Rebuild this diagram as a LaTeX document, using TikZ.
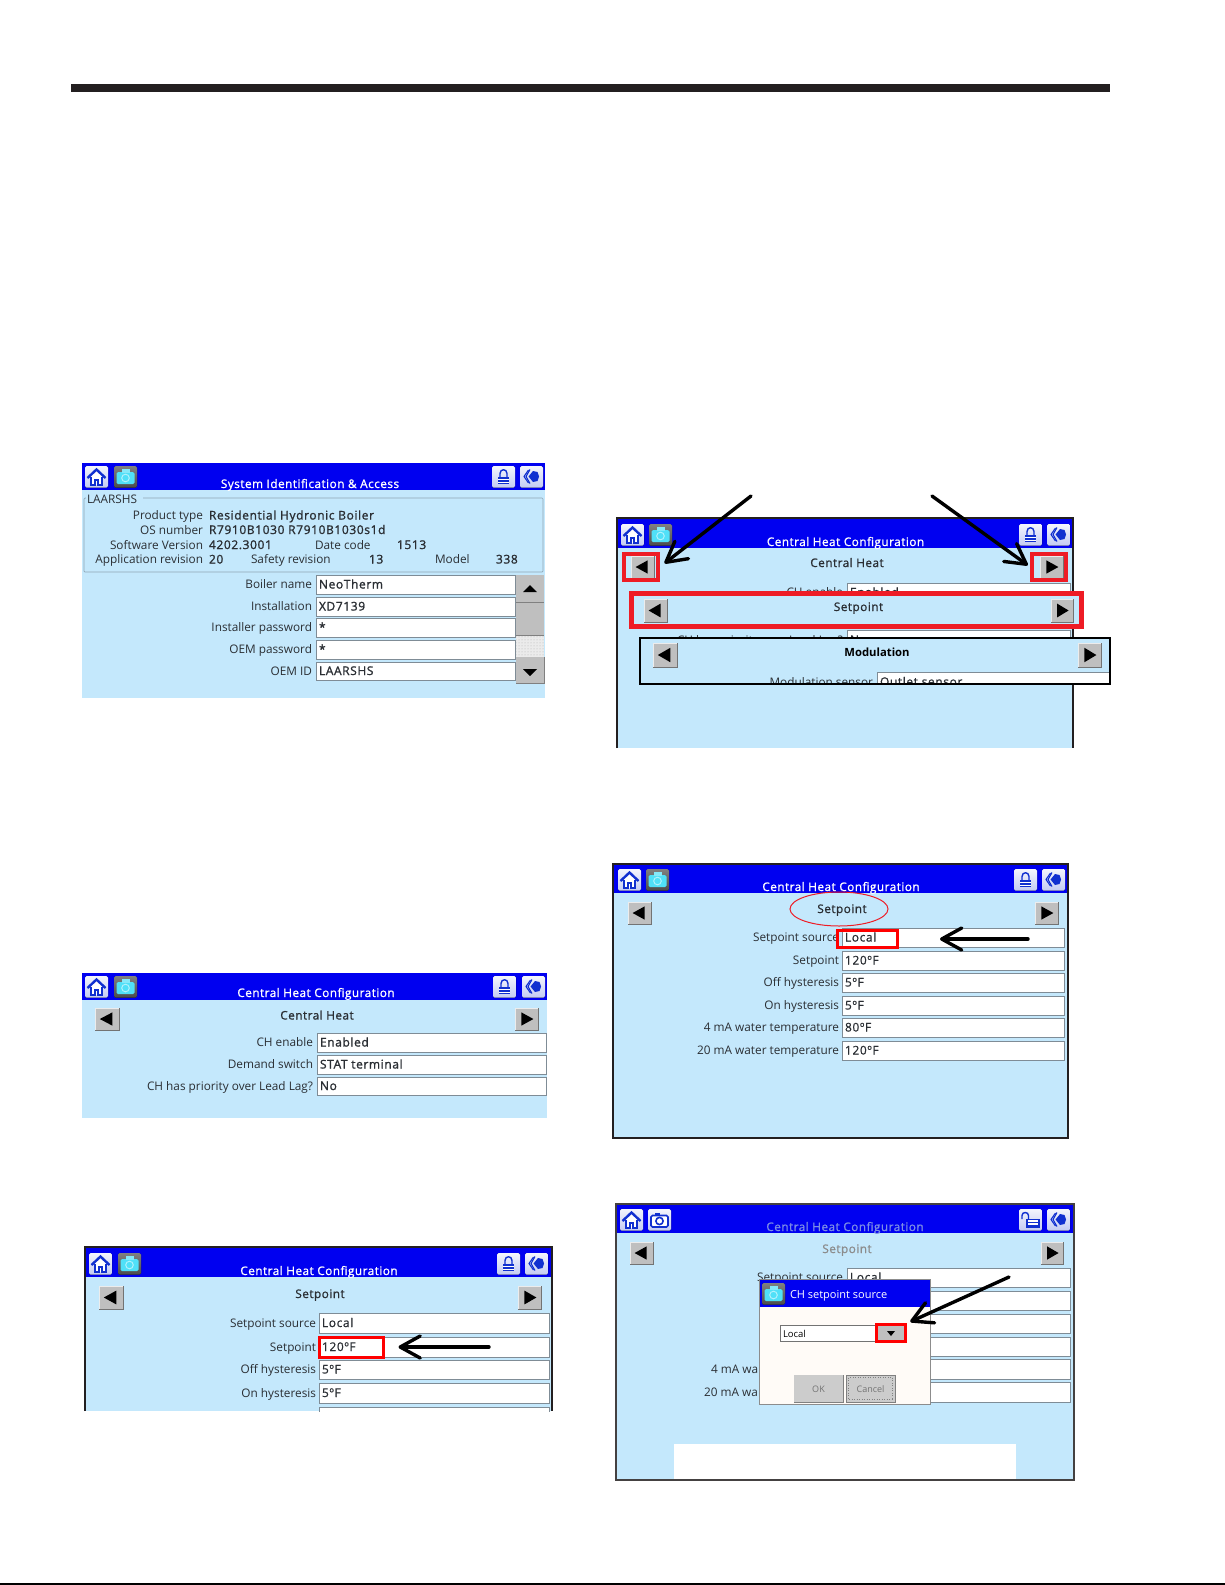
\documentclass[tikz,border=0pt]{standalone}
\usepackage{fontspec}
\setmainfont{Open Sans}
\newfontfamily\medf[FakeBold=1.3,LetterSpace=5]{Open Sans}
\newfontfamily\midf[FakeBold=0.7,LetterSpace=5]{Open Sans}
\newfontfamily\ttlf[FakeBold=1.0,LetterSpace=4]{Open Sans}
\usetikzlibrary{arrows.meta,shapes.geometric,patterns}
\definecolor{scr}{HTML}{C4E8FC}
\definecolor{hdr}{HTML}{0000F0}
\definecolor{ico}{HTML}{1030D0}
\definecolor{framek}{HTML}{231F20}
\definecolor{redm}{HTML}{EE1C25}
\definecolor{fldline}{HTML}{7F8C96}
\definecolor{labelc}{HTML}{2A2E33}
\definecolor{grpline}{HTML}{8FA5B5}
\definecolor{camc}{HTML}{50E0F8}
\newcounter{nn}
\def\lblfont{\fontsize{11.8}{13}\selectfont}
\def\valfont{\medf\fontsize{12}{13}\selectfont}
\def\ttlfont{\ttlf\fontsize{11.8}{13}\selectfont}
\newcommand{\tx}[4][]{\stepcounter{nn}\node[txt,#1] (t\arabic{nn}) at (#2,#3) {#4};}
\newcommand{\row}[7]{%
  \draw[fieldbox] (#2,#4) rectangle (#3,#5);
  \pgfmathsetmacro\cyy{(#4+#5)/2+4}
  \pgfmathsetmacro\vx{#2+3}
  \tx[anchor=base east,font=\lblfont]{#1}{\cyy}{#6}
  \tx[anchor=base west,font=\valfont]{\vx}{\cyy}{#7}
}
\newcommand{\lbtn}[4]{%
  \fill[fill=btngray] (#1,#2) rectangle (#3,#4);
  \draw[color=white!85!gray,line width=.8] (#1,#4) -- (#1,#2) -- (#3,#2);
  \draw[color=black!55,line width=1] (#1,#4) -- (#3,#4) -- (#3,#2);
  \fill[black] ({#1+.2*(#3-#1)},{(#2+#4)/2}) -- ({#1+.72*(#3-#1)},{#2+.2*(#4-#2)}) -- ({#1+.72*(#3-#1)},{#2+.8*(#4-#2)}) -- cycle;
}
\newcommand{\rbtn}[4]{%
  \fill[fill=btngray] (#1,#2) rectangle (#3,#4);
  \draw[color=white!85!gray,line width=.8] (#1,#4) -- (#1,#2) -- (#3,#2);
  \draw[color=black!55,line width=1] (#1,#4) -- (#3,#4) -- (#3,#2);
  \fill[black] ({#1+.8*(#3-#1)},{(#2+#4)/2}) -- ({#1+.28*(#3-#1)},{#2+.2*(#4-#2)}) -- ({#1+.28*(#3-#1)},{#2+.8*(#4-#2)}) -- cycle;
}
\colorlet{btngray}{black!25}
\tikzset{
  x=1pt,y=-1pt,
  txt/.style={inner sep=0pt,outer sep=0pt,anchor=base west,text=labelc},
  fieldbox/.style={fill=white,draw=fldline,line width=.8},
  redbox/.style={draw=red,line width=3,inner sep=0pt,fill=none},
  panelframe/.style={draw=framek,line width=2.2},
  bigarrow/.style={draw=black,line width=3.4,line cap=round,-{Straight Barb[length=20pt,width=22pt,line width=3.4pt,round]}},
  icobg/.style={rounded corners=1.5,top color=white!80!ico!25,bottom color=ico!25!white},
  homeicon/.pic={
    \fill[icobg] (0,0) rectangle (23,21.5);
    \fill[white] (5.5,11) -- (11.5,5) -- (17.5,11) -- (17.5,19) -- (5.5,19) -- cycle;
    \draw[ico,line width=1.5] (6.2,11) -- (6.2,19) -- (10,19) -- (10,14) -- (13,14) -- (13,19) -- (16.8,19) -- (16.8,11);
    \draw[ico,line width=2.4] (2.5,12) -- (11.5,3.5) -- (20.5,12);
  },
  camoff/.pic={
    \fill[rounded corners=1.5,top color=black!50,bottom color=black!70] (0,0) rectangle (23,21.5);
    \fill[color=camc,rounded corners=1.5] (2.5,6) rectangle (20.5,18);
    \fill[color=camc!70!white] (7.5,2.5) rectangle (15.5,7);
    \draw[color=camc!45!white,line width=1] (11.5,12) circle (3.8);
  },
  camon/.pic={
    \fill[icobg] (0,0) rectangle (23,21.5);
    \draw[ico,line width=1.6,fill=white,rounded corners=1.5] (3,6.5) rectangle (20,18);
    \fill[ico] (7,3.5) rectangle (12,7);
    \draw[ico,line width=1.6] (11.5,12) circle (3.6);
  },
  lockicon/.pic={
    \fill[icobg] (0,0) rectangle (23,21.5);
    \draw[ico,line width=1.4] (8,11) -- (8,7.5) .. controls (8,2.5) and (15,2.5) .. (15,7.5) -- (15,11);
    \fill[ico] (6,10.5) rectangle (17,18);
    \fill[white] (6,13.3) rectangle (17,14.2);
    \fill[white] (6,15.8) rectangle (17,16.6);
  },
  openlock/.pic={
    \fill[icobg] (0,0) rectangle (23,21.5);
    \draw[ico,line width=1.4] (3,10) -- (3,6.5) .. controls (3,2.5) and (9.5,2.5) .. (9.5,6.5) -- (9.5,11);
    \draw[ico,line width=1.2,fill=white] (8,10.5) rectangle (20,18);
    \fill[ico] (8,13.3) rectangle (20,14.2);
    \fill[ico] (8,15.8) rectangle (20,16.6);
  },
  backicon/.pic={
    \fill[icobg] (0,0) rectangle (23,21.5);
    \draw[ico,line width=1.1] (8.5,4) -- (4,10.5) -- (8.5,17);
    \draw[ico,line width=1.1] (10,3.5) -- (6,10.5) -- (10,17.5);
    \fill[ico] (8.5,10.5) -- (13,5) -- (17.5,6) -- (19,10.5) -- (17.5,15) -- (13,16) -- cycle;
  },
}
\newcommand{\hdrbar}[8]{%
  \fill[hdr] (#1,#2) rectangle (#3,#4);
  \pgfmathsetmacro\iy{#4-24}
  \pic at (#5,\iy) {homeicon};
  \pic at (#8,\iy) {backicon};
}
\begin{document}
\begin{tikzpicture}
\useasboundingbox (0,0) rectangle (1225,1585);
\fill[white] (0,0) rectangle (1225,1585);
% page rules
\fill[framek] (71,84) rectangle (1110,92);
\fill[black] (0,1583) rectangle (1225,1585);

% ---------- panel 1
\fill[scr] (82,463) rectangle (545,698);
\hdrbar{82}{463}{545}{490}{85}{114}{492}{520}
\pic at (114,466) {camoff};
\pic at (492,466) {lockicon};
\tx[anchor=base,font=\ttlfont,text=white]{310}{488}{System Identification \& Access}
\draw[color=grpline,line width=.7,rounded corners=1] (84,498) rectangle (543,572);
\fill[scr] (86,493) rectangle (143,505);
\tx[font=\lblfont]{87}{503.5}{LAARSHS}
\tx[anchor=base east,font=\lblfont]{203}{519.5}{Product type}
\tx[font=\valfont]{209}{519.5}{Residential Hydronic Boiler}
\tx[anchor=base east,font=\lblfont]{203}{534}{OS number}
\tx[font=\valfont]{209}{534}{R7910B1030 R7910B1030s1d}
\tx[anchor=base east,font=\lblfont]{203}{549}{Software Version}
\tx[font=\valfont]{209}{549}{4202.3001}
\tx[font=\lblfont]{315}{549}{Date code}
\tx[font=\valfont]{397}{549}{1513}
\tx[anchor=base east,font=\lblfont]{203}{563.5}{Application revision}
\tx[font=\valfont]{209}{563.5}{20}
\tx[font=\lblfont]{251}{563.5}{Safety revision}
\tx[font=\valfont]{369}{563.5}{13}
\tx[font=\lblfont]{435}{563.5}{Model}
\tx[font=\valfont]{496}{563.5}{338}
\row{312}{316}{515}{575}{594}{Boiler name}{NeoTherm}
\row{312}{316}{515}{597}{616}{Installation}{XD7139}
\row{312}{316}{515}{618}{637}{Installer password}{*}
\row{312}{316}{515}{640}{659}{OEM password}{*}
\row{312}{316}{515}{662}{680}{OEM ID}{LAARSHS}
% scrollbar
\fill[btngray] (516,575) rectangle (544,602);
\fill[btngray] (516,602.5) rectangle (544,635);
\fill[black!8] (516,635) rectangle (544,657);
\fill[pattern=dots,pattern color=black!30] (516,635) rectangle (544,657);
\fill[btngray] (516,657) rectangle (544,683);
\draw[black!50,line width=.8] (516,602) -- (544,602) (516,635) -- (544,635) (516,683) -- (544,683) -- (544,657);
\fill[black] (530,585) -- (537,592) -- (523,592) -- cycle;
\fill[black] (530,676) -- (537,669) -- (523,669) -- cycle;

% ---------- panel 2
\fill[scr] (82,973) rectangle (547,1118);
\hdrbar{82}{973}{547}{1000}{85}{114}{493}{522}
\pic at (114,976) {camoff};
\pic at (493,976) {lockicon};
\tx[anchor=base,font=\ttlfont,text=white]{316}{997}{Central Heat Configuration}
\lbtn{95}{1008}{119}{1030}
\rbtn{515}{1008}{538}{1030}
\tx[anchor=base,font=\ttlfont]{317}{1019.5}{Central Heat}
\row{313}{317}{546}{1033}{1052}{CH enable}{Enabled}
\row{313}{317}{546}{1055}{1074}{Demand switch}{STAT terminal}
\row{313}{317}{546}{1077}{1095}{CH has priority over Lead Lag?}{No}

% ---------- lighter value text from here on
\def\valfont{\midf\fontsize{12}{13}\selectfont}
% ---------- panel 3
\fill[scr] (85,1247) rectangle (552,1411);
\hdrbar{85}{1247}{552}{1277}{89}{118}{497}{525}
\pic at (118,1253) {camoff};
\pic at (497,1253) {lockicon};
\tx[anchor=base,font=\ttlfont,text=white]{319}{1275}{Central Heat Configuration}
\lbtn{99}{1286}{123}{1309}
\rbtn{518}{1286}{541}{1309}
\tx[anchor=base,font=\ttlfont]{320}{1298}{Setpoint}
\row{316}{319}{549}{1313}{1333}{Setpoint source}{Local}
\row{316}{319}{549}{1337}{1357}{Setpoint}{120ºF}
\row{316}{319}{549}{1360}{1379}{Off hysteresis}{5ºF}
\row{316}{319}{549}{1383}{1403}{On hysteresis}{5ºF}
\begin{scope}
\clip (85,1400) rectangle (552,1411);
\draw[fieldbox] (319,1407) rectangle (549,1425);
\end{scope}
\draw[panelframe] (85,1411) -- (85,1247) -- (552,1247) -- (552,1411);
\node[redbox,minimum width=64pt,minimum height=20pt] (red3) at (351,1347) {};
\coordinate (tail3) at (489,1347);
\draw[bigarrow,shorten >=14pt] (tail3) -- (red3.east);

% ---------- panel 4
\fill[scr] (617,518) rectangle (1073,748);
\hdrbar{617}{518}{1073}{548}{621}{649}{1019}{1047}
\pic at (649,524) {camoff};
\pic at (1019,524) {lockicon};
\tx[anchor=base,font=\ttlfont,text=white]{845.5}{546}{Central Heat Configuration}
\lbtn{631}{556}{654}{578}
\rbtn{1040}{556}{1063}{578}
\tx[anchor=base,font=\ttlfont]{847}{567}{Central Heat}
\row{843}{847}{1070}{583}{602}{CH enable}{Enabled}
\row{843}{847}{1070}{630}{650}{CH has priority over Lead Lag?}{No}
\draw[panelframe] (617,748) -- (617,518) -- (1073,518) -- (1073,748);
\node[redbox,draw=redm,line width=3.6,minimum width=34pt,minimum height=26pt] (redL) at (641,567) {};
\node[redbox,draw=redm,line width=3.6,minimum width=34pt,minimum height=26pt] (redR) at (1049,567) {};
\coordinate (tailL) at (751,496);
\coordinate (tailR) at (932,496);
\draw[bigarrow,shorten >=6pt] (tailL) -- (redL.east);
\draw[bigarrow,shorten >=3pt] (tailR) -- (redR.west);
% setpoint bar
\node[draw=redm,fill=scr,line width=5.5,inner sep=0pt,minimum width=450pt,minimum height=33pt] (barS) at (856.5,610) {};
\lbtn{644}{599}{667}{622}
\rbtn{1051}{599}{1073}{622}
\tx[anchor=base,font=\ttlfont]{858.5}{611}{Setpoint}
% modulation bar
\node[fill=scr,inner sep=0pt,minimum width=470pt,minimum height=46pt] (barM) at (875,661) {};
\lbtn{653}{643}{677}{667}
\rbtn{1078}{643}{1101}{667}
\tx[anchor=base,font=\fontsize{11.3}{13}\selectfont\bfseries,text=black]{877}{656}{Modulation}
\begin{scope}
\clip (640,638) rectangle (1110,684);
\row{873}{877}{1109}{672}{692}{Modulation sensor}{Outlet sensor}
\end{scope}
\node[draw=black,line width=2,inner sep=0pt,minimum width=470pt,minimum height=46pt] (boxM) at (875,661) {};

% ---------- panel 5
\fill[scr] (613,864) rectangle (1068,1138);
\hdrbar{613}{864}{1068}{893}{618}{646}{1014}{1042}
\pic at (646,869) {camoff};
\pic at (1014,869) {lockicon};
\tx[anchor=base,font=\ttlfont,text=white]{841}{891}{Central Heat Configuration}
\lbtn{628}{902}{651}{924}
\rbtn{1035}{902}{1058}{924}
\node[draw=redm,line width=1,ellipse,inner sep=0pt,minimum width=98pt,minimum height=34pt] (ell5) at (839,909) {};
\tx[anchor=base,font=\ttlfont]{842}{913}{Setpoint}
\row{839}{842}{1064}{928}{947}{Setpoint source}{Local}
\row{839}{842}{1064}{951}{970}{Setpoint}{120ºF}
\row{839}{842}{1064}{973}{992}{Off hysteresis}{5ºF}
\row{839}{842}{1064}{996}{1015}{On hysteresis}{5ºF}
\row{839}{842}{1064}{1018}{1037}{4 mA water temperature}{80ºF}
\row{839}{842}{1064}{1041}{1060}{20 mA water temperature}{120ºF}
\draw[panelframe] (613,864) rectangle (1068,1138);
\node[redbox,minimum width=60pt,minimum height=17pt] (red5) at (867.5,939) {};
\coordinate (tail5) at (1028,939);
\draw[bigarrow,shorten >=41pt] (tail5) -- (red5.east);

% ---------- panel 6
\fill[scr] (616,1204) rectangle (1074,1480);
\hdrbar{616}{1204}{1074}{1233}{620}{648}{1019}{1047}
\pic at (648,1209) {camon};
\pic at (1019,1209) {openlock};
\tx[anchor=base,font=\ttlfont,text=ico!55!white]{845}{1231}{Central Heat Configuration}
\lbtn{630}{1242}{653}{1264}
\rbtn{1041}{1242}{1063}{1264}
\tx[anchor=base,font=\ttlfont,text=black!45]{847}{1253}{Setpoint}
\row{843}{847}{1070}{1268}{1287}{Setpoint source}{Local}
\draw[fieldbox] (847,1291) rectangle (1070,1310);
\draw[fieldbox] (847,1314) rectangle (1070,1333);
\draw[fieldbox] (847,1337) rectangle (1070,1356);
\draw[fieldbox] (847,1359) rectangle (1070,1379);
\draw[fieldbox] (847,1382) rectangle (1070,1402);
\tx[font=\lblfont]{711}{1373}{4 mA wa}
\tx[font=\lblfont]{704}{1396}{20 mA wa}
\fill[white] (674,1444) rectangle (1016,1480);
\draw[panelframe,draw=framek!85] (616,1204) rectangle (1074,1480);
% dialog
\fill[white!97!orange] (759,1279) rectangle (930,1404);
\fill[hdr] (759,1279) rectangle (930,1307);
\draw[black!45,line width=.8] (759,1279) rectangle (930,1404);
\pic at (762,1283) {camoff};
\tx[font=\fontsize{11}{13}\selectfont,text=white]{790}{1298}{CH setpoint source}
\draw[color=black!55,fill=white,line width=.8] (780,1325) rectangle (877,1341);
\tx[font=\fontsize{9.5}{11}\selectfont,text=black]{783}{1337}{Local}
\fill[btngray] (877,1325) rectangle (905,1341);
\fill[black] (887,1331) -- (895,1331) -- (891,1336) -- cycle;
\node[redbox,line width=2.2,minimum width=29pt,minimum height=17pt] (red6) at (891,1333) {};
\fill[black!20] (794,1375) rectangle (843,1402);
\fill[black!20] (846,1375) rectangle (895,1402);
\draw[black!50,line width=.7] (794,1402) -- (843,1402) -- (843,1375) (846,1402) -- (895,1402) -- (895,1375) -- (846,1375) -- cycle;
\draw[black!50,line width=.5,dotted] (848.5,1377.5) rectangle (892.5,1399.5);
\tx[anchor=base,font=\fontsize{9}{11}\selectfont,text=black!55]{818.5}{1392}{OK}
\tx[anchor=base,font=\fontsize{9}{11}\selectfont,text=black!55]{870.5}{1392}{Cancel}
\coordinate (tail6) at (1009,1277);
\draw[bigarrow,shorten >=4pt] (tail6) -- (red6.north east);
\end{tikzpicture}
\end{document}
